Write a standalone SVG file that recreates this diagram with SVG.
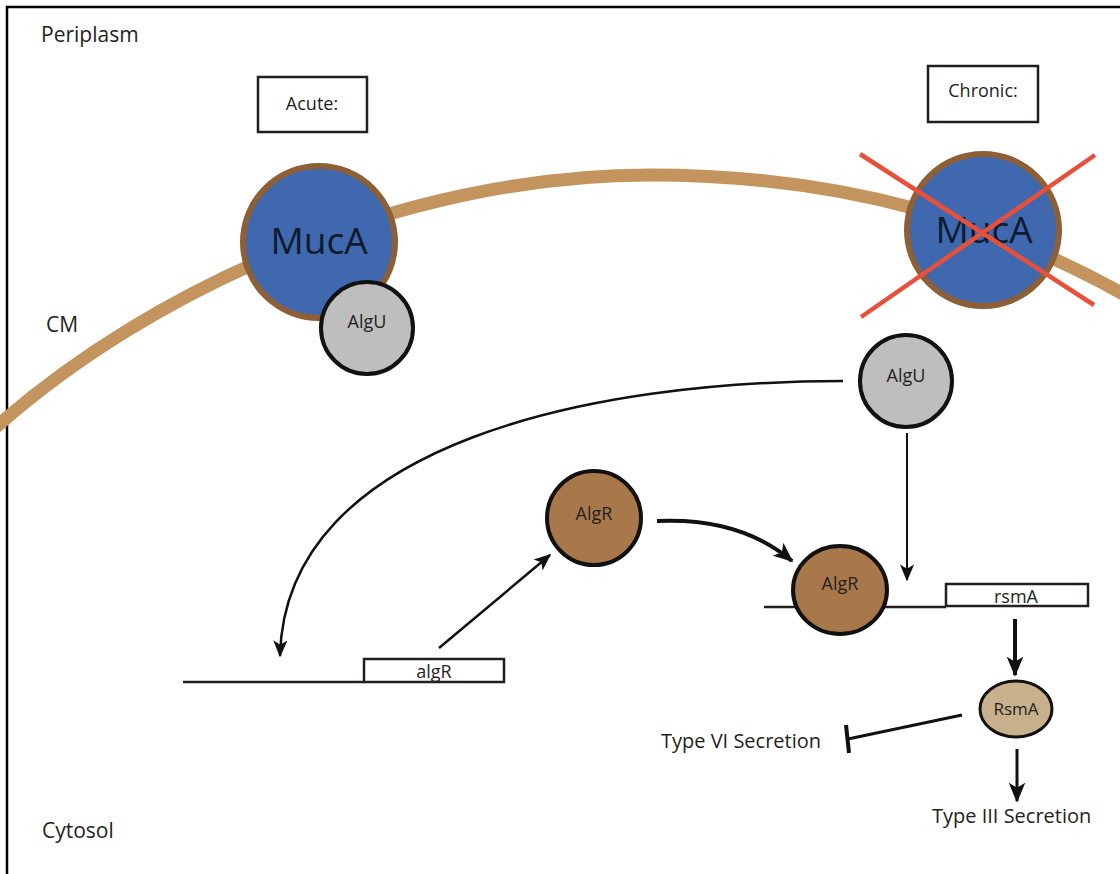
<svg xmlns="http://www.w3.org/2000/svg" width="1120" height="874" viewBox="0 0 1120 874">
  <style>
    text { font-family: "Open Sans", "Noto Sans", "Liberation Sans", sans-serif; fill: #231F20; }
    .lbl { font-size: 21px; }
    .box { fill: #ffffff; stroke: #231F20; stroke-width: 2.5; }
    .muca { fill: #3F68AE; stroke: #8E5F35; stroke-width: 6; }
    .mucatxt { font-size: 37px; text-anchor: middle; fill: #0E1A2E; }
    .algu { fill: #BEBEBE; stroke: #111; stroke-width: 4; }
    .algr { fill: #A8774A; stroke: #111; stroke-width: 4; }
    .rsma { fill: #C9B08C; stroke: #111; stroke-width: 3; }
    .ntxt { font-size: 18px; text-anchor: middle; }
    .dna { stroke: #231F20; stroke-width: 2.5; fill: none; }
    .conn { stroke: #111; fill: none; }
  </style>
  <defs>
    <marker id="ah" viewBox="0 0 12 10" refX="11" refY="5" markerUnits="userSpaceOnUse" markerWidth="17" markerHeight="15" orient="auto">
      <path d="M0,0 L12,5 L0,10 L3,5 z" fill="#111"/>
    </marker>
    <marker id="ahb" viewBox="0 0 12 10" refX="11" refY="5" markerUnits="userSpaceOnUse" markerWidth="20" markerHeight="18" orient="auto">
      <path d="M0,0 L12,5 L0,10 L3,5 z" fill="#111"/>
    </marker>
  </defs>

  <rect x="0" y="0" width="1120" height="874" fill="#ffffff"/>
  <path d="M7,874 V7 H1120" fill="none" stroke="#000" stroke-width="2.5"/>

  <g id="labels">
    <text class="lbl" x="41" y="42">Periplasm</text>
    <text class="lbl" x="46" y="332">CM</text>
    <text class="lbl" x="42" y="838">Cytosol</text>
  </g>

  <g id="membrane">
    <path d="M-5,428 C150,290 400,175 650,175 C850,175 1000,225 1125,295" fill="none" stroke="#C4945E" stroke-width="13"/>
  </g>

  <g id="acute-box">
    <rect class="box" x="258" y="77" width="109" height="55"/>
    <text x="312" y="110" font-size="18" text-anchor="middle">Acute:</text>
  </g>
  <g id="chronic-box">
    <rect class="box" x="928" y="66" width="110" height="56"/>
    <text x="983" y="97" font-size="18" text-anchor="middle">Chronic:</text>
  </g>

  <g id="muca-acute">
    <circle class="muca" cx="319" cy="242" r="76"/>
    <text class="mucatxt" x="319" y="254">MucA</text>
  </g>
  <g id="algu-acute">
    <circle class="algu" cx="367" cy="328" r="46"/>
    <text class="ntxt" x="367" y="328">AlgU</text>
  </g>

  <g id="muca-chronic">
    <circle class="muca" cx="983" cy="230" r="76"/>
    <text class="mucatxt" x="984" y="243">MucA</text>
    <line x1="860" y1="154" x2="1094" y2="305" stroke="#E8503A" stroke-width="4.5"/>
    <line x1="1095" y1="155" x2="861" y2="317" stroke="#E8503A" stroke-width="4.5"/>
  </g>

  <g id="algu-chronic">
    <circle class="algu" cx="906" cy="381" r="46"/>
    <text class="ntxt" x="906" y="382">AlgU</text>
  </g>

  <g id="algR-gene">
    <line class="dna" x1="183" y1="682" x2="364" y2="682"/>
    <rect class="box" x="364" y="659" width="140" height="23"/>
    <text x="434" y="678" font-size="18" text-anchor="middle">algR</text>
  </g>

  <g id="rsmA-gene">
    <line class="dna" x1="764" y1="607" x2="946" y2="607"/>
    <rect class="box" x="946" y="584" width="142" height="22"/>
    <text x="1016" y="603" font-size="18" text-anchor="middle">rsmA</text>
  </g>

  <g id="algr-1">
    <circle class="algr" cx="594" cy="518" r="47"/>
    <text class="ntxt" x="594" y="520">AlgR</text>
  </g>
  <g id="algr-2">
    <ellipse class="algr" cx="840" cy="590" rx="47" ry="44"/>
    <text class="ntxt" x="840" y="590">AlgR</text>
  </g>

  <g id="rsma-protein">
    <ellipse class="rsma" cx="1016" cy="709" rx="36" ry="28"/>
    <text x="1016" y="715" font-size="17" text-anchor="middle">RsmA</text>
  </g>

  <g id="outputs">
    <text x="661" y="748" font-size="20">Type VI Secretion</text>
    <text x="932" y="823" font-size="20">Type III Secretion</text>
  </g>

  <g id="connectors">
    <path class="conn" stroke-width="2.5" d="M843,381 C600,381 285,440 280,656" marker-end="url(#ah)"/>
    <line class="conn" stroke-width="2.5" x1="439" y1="648" x2="550" y2="555" marker-end="url(#ah)"/>
    <path class="conn" stroke-width="4" d="M657,521 Q740,517 792,561" marker-end="url(#ahb)"/>
    <line class="conn" stroke-width="2" x1="907" y1="433" x2="907" y2="580" marker-end="url(#ah)"/>
    <line class="conn" stroke-width="4" x1="1015" y1="619" x2="1015" y2="675" marker-end="url(#ahb)"/>
    <line class="conn" stroke-width="3" x1="1017" y1="749" x2="1017" y2="801" marker-end="url(#ahb)"/>
    <line class="conn" stroke-width="3" x1="962" y1="715" x2="848" y2="739"/>
    <line class="conn" stroke-width="4" x1="846" y1="725" x2="849" y2="753"/>
  </g>
</svg>
